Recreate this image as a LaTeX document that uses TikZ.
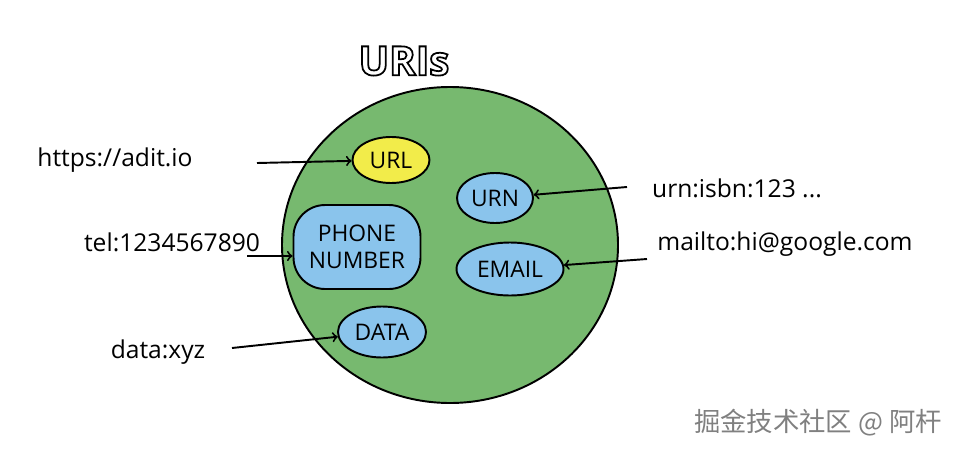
\documentclass[tikz,border=0pt]{standalone}
\usepackage{fontspec}
\setmainfont{Open Sans}
\newfontfamily\cjk{Noto Sans CJK SC}
\usetikzlibrary{shapes.geometric}
\definecolor{blobgreen}{RGB}{119,185,111}
\definecolor{skyblue}{RGB}{138,196,236}
\definecolor{lemon}{RGB}{242,236,74}
\newcommand{\hollow}[1]{\special{pdf:literal direct 1 Tr 1 w}#1\special{pdf:literal direct 0 Tr}}

\begin{document}
\begin{tikzpicture}[>=to, x=0.02cm, y=-0.02cm, line width=1.1pt,
        uri/.style={draw, ellipse, fill=skyblue, inner sep=0pt, font=\fontsize{13}{15}\selectfont},
        scheme/.style={font=\fontsize{14}{16}\selectfont}]
    \useasboundingbox (0, 0) rectangle (959, 453);
    \node[font=\fontsize{23}{25}\bfseries] (title) at (404, 61) {\hollow{URIs}};
    \draw[fill=blobgreen] (450, 245) ellipse [x radius=168*0.02cm, y radius=158*0.02cm];
    % kinds of URI
    \node[uri, fill=lemon, minimum width=77*0.02cm, minimum height=46*0.02cm] (url) at (391, 160) {URL};
    \node[uri, minimum width=76*0.02cm, minimum height=50*0.02cm] (urn) at (495, 198) {URN};
    \node[uri, rectangle, rounded corners=18pt, align=center, minimum width=127*0.02cm, minimum height=84*0.02cm] (phone) at (357, 247) {PHONE\\NUMBER};
    \node[uri, minimum width=107*0.02cm, minimum height=53*0.02cm] (email) at (510, 269) {EMAIL};
    \node[uri, minimum width=88*0.02cm, minimum height=51*0.02cm] (data) at (382, 332) {DATA};
    % examples
    \node[scheme] (https) at (115, 160) {https://adit.io};
    \node[scheme] (tel) at (172, 242) {tel:1234567890};
    \node[scheme] (dataex) at (158, 352) {data:xyz};
    \node[scheme] (isbn) at (737, 188) {urn:isbn:123 ...};
    \node[scheme] (mailto) at (785, 244) {mailto:hi@google.com};
    \coordinate (a1) at (257, 163);
    \coordinate (a2) at (247, 256);
    \coordinate (a3) at (232, 348);
    \coordinate (a4) at (627, 187);
    \coordinate (a5) at (647, 259);
    \draw[->] (a1) -- (url);
    \draw[->] (a2) -- (phone.west |- a2);
    \draw[->] (a3) -- (data);
    \draw[->] (a4) -- (urn);
    \draw[->] (a5) -- (email);
    \node[text=gray, font=\cjk\fontsize{15}{17}\selectfont] (mark) at (818, 423) {掘金技术社区 @ 阿杆};
\end{tikzpicture}
\end{document}
